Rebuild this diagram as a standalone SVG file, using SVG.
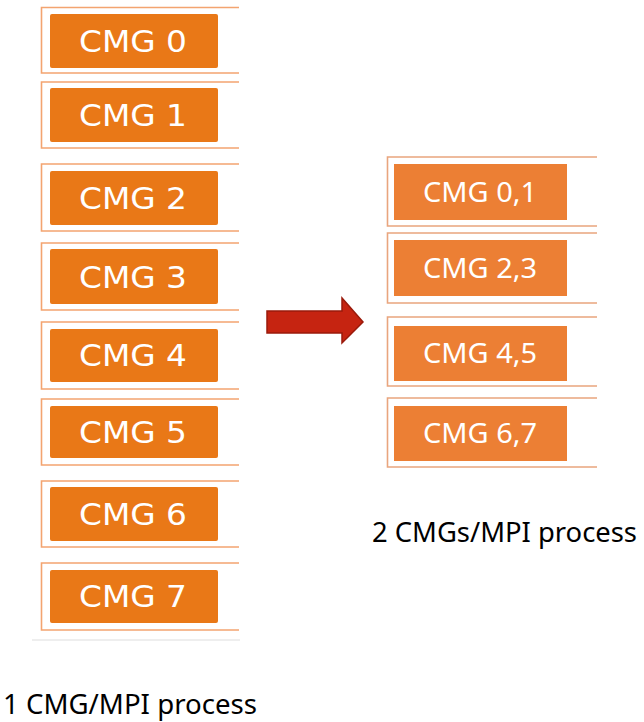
<svg xmlns="http://www.w3.org/2000/svg" width="644" height="722" viewBox="0 0 644 722">
  <style>
    .frame-l { fill: none; stroke: #F3A470; stroke-width: 1.6; }
    .frame-r { fill: none; stroke: #E9A57E; stroke-width: 1.6; }
    .box-l { fill: #E97817; }
    .box-r { fill: #EC7F34; }
    .txt-l { font-family: "DejaVu Sans", "Liberation Sans", sans-serif; font-size: 31px; fill: #FFFFFF; text-anchor: middle; }
    .txt-r { font-family: "Noto Sans", "Open Sans", sans-serif; font-size: 27px; fill: #FFFFFF; text-anchor: middle; }
    .caption { font-family: "Noto Sans", "Open Sans", sans-serif; font-size: 27px; fill: #000000; }
  </style>

  <!-- one CMG per MPI process -->
  <g id="cmg0">
    <path class="frame-l" d="M239,7.5 H41.5 V73 H239"/>
    <rect class="box-l" x="50" y="14" width="168" height="54" rx="2"/>
    <text class="txt-l" x="133" y="52" textLength="108" lengthAdjust="spacingAndGlyphs">CMG 0</text>
  </g>
  <g id="cmg1">
    <path class="frame-l" d="M239,82 H41.5 V148 H239"/>
    <rect class="box-l" x="50" y="88" width="168" height="54" rx="2"/>
    <text class="txt-l" x="133" y="126" textLength="108" lengthAdjust="spacingAndGlyphs">CMG 1</text>
  </g>
  <g id="cmg2">
    <path class="frame-l" d="M239,164 H41.5 V231 H239"/>
    <rect class="box-l" x="50" y="171" width="168" height="54" rx="2"/>
    <text class="txt-l" x="133" y="209" textLength="108" lengthAdjust="spacingAndGlyphs">CMG 2</text>
  </g>
  <g id="cmg3">
    <path class="frame-l" d="M239,243 H41.5 V310 H239"/>
    <rect class="box-l" x="50" y="249" width="168" height="55" rx="2"/>
    <text class="txt-l" x="133" y="288" textLength="108" lengthAdjust="spacingAndGlyphs">CMG 3</text>
  </g>
  <g id="cmg4">
    <path class="frame-l" d="M239,322 H41.5 V389 H239"/>
    <rect class="box-l" x="50" y="329" width="168" height="53" rx="2"/>
    <text class="txt-l" x="133" y="366" textLength="108" lengthAdjust="spacingAndGlyphs">CMG 4</text>
  </g>
  <g id="cmg5">
    <path class="frame-l" d="M239,399 H41.5 V465 H239"/>
    <rect class="box-l" x="50" y="406" width="168" height="52" rx="2"/>
    <text class="txt-l" x="133" y="443" textLength="108" lengthAdjust="spacingAndGlyphs">CMG 5</text>
  </g>
  <g id="cmg6">
    <path class="frame-l" d="M239,481 H41.5 V547 H239"/>
    <rect class="box-l" x="50" y="487" width="168" height="54" rx="2"/>
    <text class="txt-l" x="133" y="525" textLength="108" lengthAdjust="spacingAndGlyphs">CMG 6</text>
  </g>
  <g id="cmg7">
    <path class="frame-l" d="M239,563 H41.5 V630 H239"/>
    <rect class="box-l" x="50" y="570" width="168" height="53" rx="2"/>
    <text class="txt-l" x="133" y="607" textLength="108" lengthAdjust="spacingAndGlyphs">CMG 7</text>
  </g>
  <line x1="32" y1="640" x2="240" y2="640" stroke="#DDDDDD" stroke-width="1.2"/>

  <!-- two CMGs per MPI process -->
  <g id="cmg01">
    <path class="frame-r" d="M597,157 H387.5 V226 H597"/>
    <rect class="box-r" x="394" y="164" width="173" height="56"/>
    <text class="txt-r" x="480" y="202" textLength="114" lengthAdjust="spacingAndGlyphs">CMG 0,1</text>
  </g>
  <g id="cmg23">
    <path class="frame-r" d="M597,233 H387.5 V303 H597"/>
    <rect class="box-r" x="394" y="240" width="173" height="56"/>
    <text class="txt-r" x="480" y="278" textLength="114" lengthAdjust="spacingAndGlyphs">CMG 2,3</text>
  </g>
  <g id="cmg45">
    <path class="frame-r" d="M597,317 H387.5 V386 H597"/>
    <rect class="box-r" x="394" y="326" width="173" height="55"/>
    <text class="txt-r" x="480" y="363" textLength="114" lengthAdjust="spacingAndGlyphs">CMG 4,5</text>
  </g>
  <g id="cmg67">
    <path class="frame-r" d="M597,398 H387.5 V467 H597"/>
    <rect class="box-r" x="394" y="406" width="173" height="55"/>
    <text class="txt-r" x="480" y="443" textLength="114" lengthAdjust="spacingAndGlyphs">CMG 6,7</text>
  </g>

  <!-- block arrow between the two layouts -->
  <g id="connectors">
    <path d="M267,311 H342 V298 L363,322 L342,343 V333 H267 Z" fill="#C62411" stroke="#9A1A0B" stroke-width="1.5" stroke-linejoin="miter"/>
  </g>

  <text class="caption" x="372" y="542" textLength="265" lengthAdjust="spacingAndGlyphs">2 CMGs/MPI process</text>
  <text class="caption" x="3" y="714" textLength="254" lengthAdjust="spacingAndGlyphs">1 CMG/MPI process</text>
</svg>
